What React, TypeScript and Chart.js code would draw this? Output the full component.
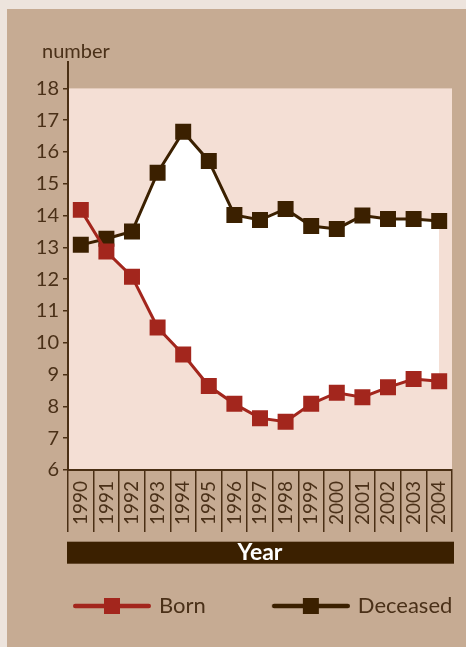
import React, { useEffect, useRef } from 'react';
import { Chart, registerables } from 'chart.js';

Chart.register(...registerables);

// ---- data ----
const YEARS = ['1990', '1991', '1992', '1993', '1994', '1995', '1996', '1997', '1998', '1999', '2000', '2001', '2002', '2003', '2004'];
const BORN = [14.18, 12.87, 12.08, 10.48, 9.63, 8.64, 8.08, 7.63, 7.52, 8.08, 8.43, 8.29, 8.6, 8.86, 8.79];
const DECEASED = [13.08, 13.27, 13.5, 15.35, 16.64, 15.72, 14.02, 13.86, 14.21, 13.67, 13.58, 14.0, 13.89, 13.89, 13.83];
const Y_TICKS = [6, 7, 8, 9, 10, 11, 12, 13, 14, 15, 16, 17, 18];
const SERIES_NAMES = ['Born', 'Deceased'];
const Y_LABEL = 'number';
const X_TITLE = 'Year';

// ---- style ----
const OUTER = '#ede4dd';
const TAN = '#c6ab93';
const PINK = '#f4dfd5';
const DARK = '#3b2000';
const RED = '#a3261d';
const TEXT = '#4a3018';
const AXIS = '#4a2f14';
const FONT = 'Lato';

const Y_MIN = 6;
const Y_MAX = 18.83;

function makeLegendImage(color: string, w: number): HTMLCanvasElement {
  const c = document.createElement('canvas');
  c.width = w;
  c.height = 20;
  const ctx = c.getContext('2d') as CanvasRenderingContext2D;
  const lineLen = 78;
  const lw = 4.5;
  ctx.strokeStyle = color;
  ctx.lineWidth = lw;
  ctx.lineCap = 'round';
  ctx.beginPath();
  ctx.moveTo(w - lineLen + lw / 2, 10);
  ctx.lineTo(w - lw / 2, 10);
  ctx.stroke();
  ctx.fillStyle = color;
  const cx = w - lineLen / 2;
  ctx.fillRect(Math.round(cx - 8), 2, 16, 16);
  return c;
}

const TITLE_SIZE = 23;
const TITLE_PAD_BOTTOM = 24.5;

const decorPlugin = {
  id: 'decor',
  beforeDraw(chart: any) {
    const { ctx, chartArea, scales } = chart;
    const x = scales.x;
    const y = scales.y;
    ctx.save();
    const top = y.getPixelForValue(Y_TICKS[Y_TICKS.length - 1]);
    ctx.fillStyle = PINK;
    ctx.fillRect(chartArea.left, top, chartArea.right - chartArea.left, chartArea.bottom - top);
    const lh = TITLE_SIZE * 1.2;
    const cy = x.bottom - TITLE_PAD_BOTTOM - lh / 2;
    ctx.fillStyle = DARK;
    ctx.fillRect(x.left - 1, cy - 11, x.right - x.left + 3, 22);
    ctx.fillStyle = TEXT;
    ctx.font = `20px ${FONT}`;
    ctx.textAlign = 'left';
    ctx.textBaseline = 'alphabetic';
    ctx.fillText(Y_LABEL, y.left + 35, chartArea.top - 4);
    ctx.restore();
  },
};

export default function App() {
  const ref = useRef<HTMLCanvasElement | null>(null);

  useEffect(() => {
    document.body.style.margin = '0';
    document.body.style.background = OUTER;
    const canvas = ref.current;
    if (!canvas) return;
    const W = 137;
    const imgs = [makeLegendImage(RED, W + 6), makeLegendImage(DARK, W + 6)];
    const chart = new Chart(canvas, {
      type: 'line',
      data: {
        labels: YEARS,
        datasets: [
          {
            label: SERIES_NAMES[0],
            data: BORN,
            borderColor: RED,
            borderWidth: 3,
            pointStyle: 'rect',
            pointRadius: 11.3,
            pointBackgroundColor: RED,
            pointBorderWidth: 0,
            fill: false,
            tension: 0,
          },
          {
            label: SERIES_NAMES[1],
            data: DECEASED,
            borderColor: DARK,
            borderWidth: 3,
            pointStyle: 'rect',
            pointRadius: 11.3,
            pointBackgroundColor: DARK,
            pointBorderWidth: 0,
            fill: { target: 0, above: '#ffffff', below: 'rgba(0,0,0,0)' },
            tension: 0,
          },
        ],
      },
      options: {
        animation: false,
        responsive: false,
        events: [],
        layout: { padding: { top: 53, right: 0, bottom: 20, left: 0 } },
        plugins: {
          tooltip: { enabled: false },
          legend: {
            position: 'bottom',
            align: 'start',
            labels: {
              usePointStyle: true,
              pointStyleWidth: W,
              padding: 4,
              color: TEXT,
              font: { family: FONT, size: 22 },
              generateLabels: () =>
                SERIES_NAMES.map((name, i) => ({
                  text: name,
                  pointStyle: imgs[i],
                  fillStyle: 'transparent',
                  strokeStyle: 'transparent',
                  lineWidth: 0,
                  hidden: false,
                  datasetIndex: i,
                  fontColor: TEXT,
                })),
            },
          },
        },
        scales: {
          x: {
            type: 'category',
            offset: true,
            grid: { offset: true, drawOnChartArea: false, tickLength: 62, color: AXIS, lineWidth: 1.5 },
            border: { display: true, color: AXIS, width: 2 },
            ticks: {
              autoSkip: false,
              minRotation: 90,
              maxRotation: 90,
              padding: -51,
              color: TEXT,
              font: { family: FONT, size: 19 },
            },
            title: {
              display: true,
              text: X_TITLE,
              color: '#ffffff',
              font: { family: FONT, size: TITLE_SIZE, weight: 'bold' },
              padding: { top: 10, bottom: TITLE_PAD_BOTTOM },
            },
            afterFit: (s: any) => {
              s.height = 121;
            },
          },
          y: {
            min: Y_MIN,
            max: Y_MAX,
            afterBuildTicks: (s: any) => {
              s.ticks = Y_TICKS.map((v) => ({ value: v }));
            },
            grid: { drawOnChartArea: false, tickLength: 5, color: AXIS, lineWidth: 1.5 },
            border: { display: true, color: AXIS, width: 2 },
            ticks: { padding: 4, color: TEXT, font: { family: FONT, size: 20 } },
            afterFit: (s: any) => {
              s.width = 61;
            },
          },
          rightGap: {
            type: 'linear',
            position: 'right',
            display: true,
            grid: { display: false, drawTicks: false },
            border: { display: false },
            ticks: { display: false },
            afterFit: (s: any) => {
              s.width = 14;
            },
          },
        },
      },
      plugins: [decorPlugin],
    } as any);
    if ((document as any).fonts && (document as any).fonts.ready) {
      (document as any).fonts.ready.then(() => chart.update());
    }
    return () => chart.destroy();
  }, []);

  return (
    <div style={{ position: 'absolute', left: 7, top: 9, width: 459, height: 638, background: TAN }}>
      <canvas ref={ref} width={459} height={638} style={{ display: 'block' }} />
    </div>
  );
}
